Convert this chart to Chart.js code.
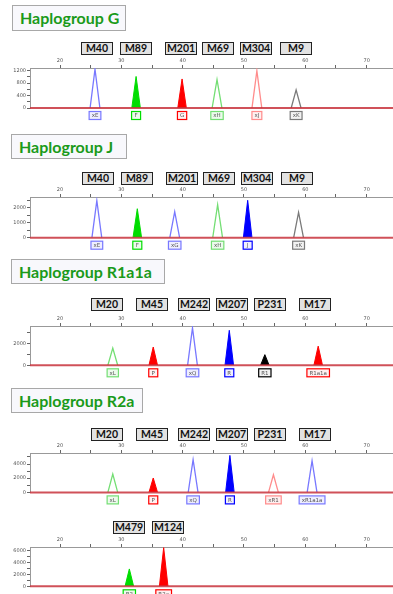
<!DOCTYPE html>
<html><head><meta charset="utf-8">
<script src="https://cdn.jsdelivr.net/npm/chart.js@4/dist/chart.umd.min.js"></script>
<style>
html,body{margin:0;padding:0;background:#fff;width:393px;height:594px;overflow:hidden;position:relative;font-family:Lato,"Open Sans",sans-serif;}
.title{position:absolute;box-sizing:border-box;border:1px solid #a8a8a8;background:#f8f8fc;color:#1a9a1a;font:bold 16px Lato,sans-serif;padding-left:7px;line-height:24px;}
.mk{position:absolute;box-sizing:border-box;width:32px;height:13px;border:1px solid #222;background:#e2e2e2;color:#111;font:bold 10.5px Lato,sans-serif;text-align:center;line-height:11px;}
.pan{position:absolute;left:0;}
</style></head><body>
<script>
// ---------- DATA ----------
const xTickValues = [20,25,30,35,40,45,50,55,60,65,70];
const xTickLabels = [20,30,40,50,60,70];

const titles = ['Haplogroup G','Haplogroup J','Haplogroup R1a1a','Haplogroup R2a'];

const gMarkers  = ['M40','M89','M201','M69','M304','M9'];
const gPos      = [25.7, 32.4, 39.9, 45.6, 52.1, 58.5];
const gHeight   = [1240, 1010, 930, 910, 1190, 580];
const gAlleles  = ['xE','F','G','xH','xJ','xK'];
const gDye      = ['blue','green','red','green','red','black'];
const gCalled   = [false,true,true,false,false,false];
const gYTicks   = [0,200,400,600,800,1000,1200];
const gYLabels  = [0,400,800,1200];

const jMarkers  = ['M40','M89','M201','M69','M304','M9'];
const jPos      = [26.0, 32.6, 38.7, 45.7, 50.6, 58.9];
const jHeight   = [2470, 1930, 1730, 2200, 2490, 1690];
const jAlleles  = ['xE','F','xG','xH','J','xK'];
const jDye      = ['blue','green','blue','green','blue','black'];
const jCalled   = [false,true,false,false,true,false];
const jYTicks   = [0,500,1000,1500,2000,2500];
const jYLabels  = [0,1000,2000];

const r1Markers = ['M20','M45','M242','M207','P231','M17'];
const r1Pos     = [28.6, 35.2, 41.6, 47.6, 53.4, 62.1];
const r1Height  = [1600, 1700, 3480, 3250, 990, 1780];
const r1Alleles = ['xL','P','xQ','R','R1','R1a1a'];
const r1Dye     = ['green','red','blue','blue','black','red'];
const r1Called  = [false,true,false,true,true,true];
const r1YTicks  = [0,1000,2000,3000];
const r1YLabels = [0,2000];

const r2Markers = ['M20','M45','M242','M207','P231','M17'];
const r2Pos     = [28.6, 35.2, 41.7, 47.7, 54.8, 61.1];
const r2Height  = [2590, 2030, 4610, 5210, 2490, 4470];
const r2Alleles = ['xL','P','xQ','R','xR1','xR1a1a'];
const r2Dye     = ['green','red','blue','blue','red','blue'];
const r2Called  = [false,true,false,true,false,false];
const r2YTicks  = [0,1000,2000,3000,4000,5000];
const r2YLabels = [0,2000,4000];

const r2aMarkers = ['M479','M124'];
const r2aPos     = [31.3, 36.9];
const r2aHeight  = [2900, 6450];
const r2aAlleles = ['R2','R2a'];
const r2aDye     = ['green','red'];
const r2aCalled  = [true,true];
const r2aYTicks  = [0,1000,2000,3000,4000,5000,6000];
const r2aYLabels = [0,2000,4000,6000];

// ---------- STYLE / LAYOUT ----------
const X_MIN = 15.1, X_MAX = 74.3;
const COL = {
  blue:  {fill:'#0000ff', line:'#7878ff', tint:'#eeeeff'},
  green: {fill:'#00dd00', line:'#74de74', tint:'#ecfbec'},
  red:   {fill:'#ff0000', line:'#ff8c8c', tint:'#fff0f0'},
  black: {fill:'#000000', line:'#7a7a7a', tint:'#f2f2f2'}
};
const HALF_W_LINE = 0.8, HALF_W_FILL = 0.7;
const TOP_H = 12, BOT_PAD = 14, Y_W = 30;

const panels = [
  {title:0, tBox:[12,5,114,26], mkTop:42, mkLeft:[81,120,165,202,240,280], axisTop:67.5, base:107.5, yMax:1280,
   markers:gMarkers,pos:gPos,h:gHeight,al:gAlleles,dye:gDye,called:gCalled,yt:gYTicks,yl:gYLabels},
  {title:1, tBox:[11,134,116,25], mkTop:172, mkLeft:[82,121,166,203,241,281], axisTop:197, base:237.7, yMax:2710,
   markers:jMarkers,pos:jPos,h:jHeight,al:jAlleles,dye:jDye,called:jCalled,yt:jYTicks,yl:jYLabels},
  {title:2, tBox:[11,259,154,25], mkTop:298, mkLeft:[91,136,178,216,254,299], axisTop:325.5, base:364.8, yMax:3650,
   markers:r1Markers,pos:r1Pos,h:r1Height,al:r1Alleles,dye:r1Dye,called:r1Called,yt:r1YTicks,yl:r1YLabels},
  {title:3, tBox:[11,388,132,25], mkTop:428, mkLeft:[91,136,178,216,254,299], axisTop:453.3, base:492.7, yMax:5550,
   markers:r2Markers,pos:r2Pos,h:r2Height,al:r2Alleles,dye:r2Dye,called:r2Called,yt:r2YTicks,yl:r2YLabels},
  {title:null, mkTop:521, mkLeft:[113,152], axisTop:546.5, base:585.8, yMax:6560,
   markers:r2aMarkers,pos:r2aPos,h:r2aHeight,al:r2aAlleles,dye:r2aDye,called:r2aCalled,yt:r2aYTicks,yl:r2aYLabels}
];

// ---------- BUILD ----------
const baselinePlugin = {
  id:'baseline',
  afterDatasetsDraw(chart){
    const {ctx, chartArea, scales:{y}} = chart;
    const py = y.getPixelForValue(0);
    ctx.save();
    ctx.strokeStyle = 'rgba(200,50,60,0.85)';
    ctx.lineWidth = 2;
    ctx.beginPath(); ctx.moveTo(chartArea.left, py); ctx.lineTo(chartArea.right, py); ctx.stroke();
    ctx.restore();
  }
};
const allelePlugin = {
  id:'alleles',
  afterDraw(chart){
    const p = chart.options.plugins.alleles.panel;
    const {ctx, scales:{x,y}} = chart;
    const top = y.getPixelForValue(0) + 3.5;
    ctx.save();
    ctx.font = '5.5px "DejaVu Sans", sans-serif';
    ctx.textAlign = 'center'; ctx.textBaseline = 'middle';
    p.al.forEach((lab,i)=>{
      const c = COL[p.dye[i]];
      const cx = x.getPixelForValue(p.pos[i]);
      const w = Math.max(9, ctx.measureText(lab).width + 5), h = 8;
      ctx.fillStyle = c.tint;
      ctx.fillRect(cx - w/2, top, w, h);
      ctx.strokeStyle = p.called[i] ? c.fill : c.line;
      ctx.lineWidth = 1.2;
      ctx.strokeRect(cx - w/2, top, w, h);
      ctx.fillStyle = '#555';
      ctx.fillText(lab, cx, top + h/2 + 0.3);
    });
    ctx.restore();
  }
};

panels.forEach(p=>{
  if (p.title !== null) {
    const t = document.createElement('div');
    t.className = 'title'; t.textContent = titles[p.title];
    t.style.left = p.tBox[0]+'px'; t.style.top = p.tBox[1]+'px';
    t.style.width = p.tBox[2]+'px'; t.style.height = p.tBox[3]+'px';
    document.body.appendChild(t);
  }
  p.markers.forEach((m,i)=>{
    const d = document.createElement('div');
    d.className = 'mk'; d.textContent = m;
    d.style.left = p.mkLeft[i]+'px'; d.style.top = p.mkTop+'px';
    document.body.appendChild(d);
  });
  const canvasTop = p.axisTop - TOP_H;
  const H = Math.round(TOP_H + (p.base - p.axisTop) + BOT_PAD);
  const cv = document.createElement('canvas');
  cv.className = 'pan'; cv.width = 393; cv.height = H;
  cv.style.top = canvasTop+'px'; cv.style.width='393px'; cv.style.height=H+'px';
  document.body.appendChild(cv);

  const datasets = p.pos.map((x0,i)=>{
    const c = COL[p.dye[i]], f = p.called[i];
    const hw = f ? HALF_W_FILL : HALF_W_LINE;
    return {
      data:[{x:x0-hw,y:0},{x:x0,y:p.h[i]},{x:x0+hw,y:0}],
      borderColor: f ? c.fill : c.line,
      backgroundColor: c.fill,
      borderWidth: f ? 1 : 1.3,
      fill: f ? 'origin' : false,
      pointRadius:0, tension:0
    };
  });

  new Chart(cv, {
    type:'line',
    data:{datasets},
    options:{
      responsive:false, maintainAspectRatio:false, animation:false,
      layout:{padding:{left:0,right:0,top:0,bottom:H - TOP_H - (p.base - p.axisTop)}},
      plugins:{legend:{display:false}, tooltip:{enabled:false}, alleles:{panel:p}},
      scales:{
        x:{type:'linear', position:'top', min:X_MIN, max:X_MAX,
           afterBuildTicks:s=>{s.ticks = xTickValues.map(v=>({value:v}));},
           afterFit:s=>{s.height = TOP_H;},
           ticks:{autoSkip:false, maxRotation:0, padding:1, color:'#555',
                  font:{size:5, family:'"DejaVu Sans", sans-serif'},
                  callback:v=> xTickLabels.includes(v) ? String(v) : ''},
           grid:{drawOnChartArea:false, drawTicks:true, tickLength:3, color:'#666'},
           border:{display:true, color:'#999', width:1}},
        y:{type:'linear', min:0, max:p.yMax,
           afterBuildTicks:s=>{s.ticks = p.yt.map(v=>({value:v}));},
           afterFit:s=>{s.width = Y_W;},
           ticks:{autoSkip:false, padding:1, color:'#555',
                  font:{size:5, family:'"DejaVu Sans", sans-serif'},
                  callback:v=> p.yl.includes(v) ? String(v) : ''},
           grid:{drawOnChartArea:false, drawTicks:true, tickLength:3, color:'#666'},
           border:{display:true, color:'#999', width:1}}
      }
    },
    plugins:[baselinePlugin, allelePlugin]
  });
});
</script>
</body></html>
